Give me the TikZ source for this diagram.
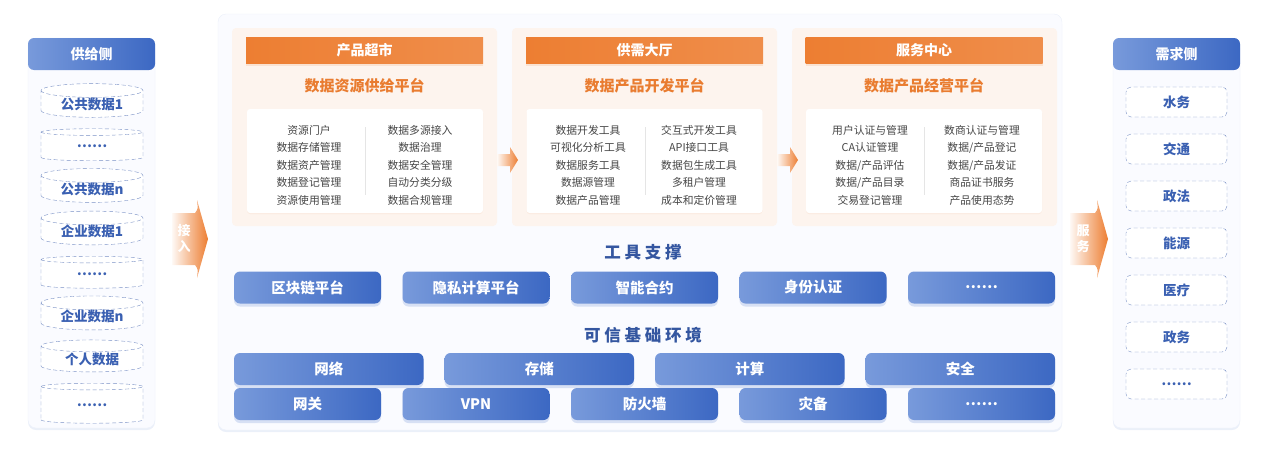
\documentclass[tikz,border=0pt]{standalone}
\usepackage{fontspec}
\setmainfont{Noto Sans CJK SC}
\usetikzlibrary{positioning,shapes.geometric,shadows}

\definecolor{blueL}{RGB}{120,154,219}
\definecolor{blueD}{RGB}{60,104,195}
\definecolor{blueTxt}{RGB}{58,96,178}
\definecolor{dashC}{RGB}{122,145,198}
\definecolor{ora}{RGB}{237,126,50}
\definecolor{oraTxt}{RGB}{233,124,48}
\definecolor{peach}{RGB}{253,244,238}
\definecolor{bodyTxt}{RGB}{70,70,70}
\definecolor{panelBg}{RGB}{250,251,255}

\begin{document}
\begin{tikzpicture}[x=1pt,y=-1pt,
    panel/.style={rounded corners=8pt, fill=panelBg, draw=blueL!15,
      drop shadow={shadow xshift=0pt,shadow yshift=-2pt,opacity=.10,fill=blueD}},
    sidehdr/.style={rounded corners=6pt, left color=blueL, right color=blueD,
      text=white, minimum width=127, minimum height=32,
      font=\fontsize{14}{16}\selectfont\bfseries},
    store/.style={cylinder, shape border rotate=90, aspect=.22, draw=dashC,
      dash pattern=on 4pt off 2.5pt, fill=white, minimum width=102,
      minimum height=32, text=blueTxt, inner sep=0pt,
      font=\fontsize{13.5}{16}\selectfont\bfseries},
    need/.style={rounded corners=5pt, draw=dashC, dash pattern=on 4pt off 2.5pt,
      fill=white, minimum width=101, minimum height=30, text=blueTxt,
      font=\fontsize{13.5}{16}\selectfont\bfseries},
    orabar/.style={left color=ora, right color=ora!88!white, text=white,
      minimum width=237, minimum height=26, inner sep=0pt,
      font=\fontsize{14}{16}\selectfont\bfseries,
      drop shadow={shadow xshift=0pt,shadow yshift=-3pt,opacity=.15,fill=ora}},
    subttl/.style={text=oraTxt, font=\fontsize{15}{18}\selectfont\bfseries},
    itembox/.style={fill=white, rounded corners=3pt, minimum width=236, minimum height=104,
      drop shadow={shadow xshift=0pt,shadow yshift=-1pt,opacity=.08,fill=ora}},
    itemcol/.style={align=center, text=bodyTxt, inner sep=0pt,
      font=\fontsize{10.8}{17.5}\selectfont},
    secttl/.style={text=blueTxt!90!black, font=\fontsize{16.5}{18}\selectfont\bfseries},
    toolbox/.style={rounded corners=6pt, left color=blueL, right color=blueD,
      text=white, minimum height=32, inner sep=0pt,
      font=\fontsize{14.5}{16}\selectfont\bfseries,
      drop shadow={shadow xshift=0pt,shadow yshift=-3pt,opacity=.18,fill=blueD}},
    flowtxt/.style={text=white, align=center, inner sep=0pt,
      font=\fontsize{13}{16}\selectfont\bfseries}]
  \useasboundingbox (0,0) rectangle (1268,458);

  % side panels and main panel
  \draw[panel] (28,38) rectangle (155,428);
  \draw[panel] (1113,38) rectangle (1240,428);
  \draw[panel] (218,14) rectangle (1062,430);
  \foreach \x in {232,512,792}
    \fill[peach, rounded corners=4pt] (\x,28) rectangle ++(265,198);

  % supply side
  \node[sidehdr] (supply) at (91.5,54) {供给侧};
  \foreach \yy/\txt/\nm in {104/公共数据1/pubA, 146.5/……/pubB, 189/公共数据n/pubN,
      231.5/企业数据1/entA, 274/……/entB, 316.5/企业数据n/entN, 359/个人数据/pers}
    \node[store] (\nm) at (92,\yy) {\txt};
  \node[store, minimum height=40] (more) at (92,405) {……};

  % demand side
  \node[sidehdr] (demand) at (1176.5,54) {需求侧};
  \foreach \i/\txt in {0/水务, 1/交通, 2/政法, 3/能源, 4/医疗, 5/政务, 6/……}
    \node[need] (need\i) at (1176.5,{102+47*\i}) {\txt};

  % flow arrows
  \shade[left color=ora!5, right color=ora]
    (172,213) -- (195,213) .. controls (198,209) .. (197,200) -- (208,239)
    -- (197,278) .. controls (198,269) .. (195,265) -- (172,265) -- cycle;
  \node[flowtxt] (inflow) at (184,239) {接\\入};
  \shade[left color=ora!5, right color=ora]
    (1070,213) -- (1095,213) .. controls (1098,209) .. (1097,200) -- (1108,239)
    -- (1097,278) .. controls (1098,269) .. (1095,265) -- (1070,265) -- cycle;
  \node[flowtxt] (outflow) at (1083,239) {服\\务};
  \foreach \x in {497,777}
    \shade[left color=ora!5, right color=ora]
      (\x,154) -- ++(13,0) -- ++(0,-7) -- ++(8,13) -- ++(-8,13) -- ++(0,-7)
      -- ++(-13,0) -- cycle;

  % platform panels
  \node[orabar] (mart) at (364.5,50) {产品超市};
  \node[subttl] (supplyP) at (364.5,86) {数据资源供给平台};
  \node[itembox] (martBox) at (365,161) {};
  \node[itemcol] at (309,165) {资源门户\\数据存储管理\\数据资产管理\\数据登记管理\\资源使用管理};
  \node[itemcol] at (420,165) {数据多源接入\\数据治理\\数据安全管理\\自动分类分级\\数据合规管理};
  \draw[black!10] (365,127) -- (365,195);

  \node[orabar] (hall) at (644.5,50) {供需大厅};
  \node[subttl] (devP) at (644.5,86) {数据产品开发平台};
  \node[itembox] (hallBox) at (644.5,161) {};
  \node[itemcol] at (588,165) {数据开发工具\\可视化分析工具\\数据服务工具\\数据源管理\\数据产品管理};
  \node[itemcol] at (699,165) {交互式开发工具\\API接口工具\\数据包生成工具\\多租户管理\\成本和定价管理};
  \draw[black!10] (645,127) -- (645,195);

  \node[orabar] (svc) at (924,50) {服务中心};
  \node[subttl] (opP) at (924,86) {数据产品经营平台};
  \node[itembox] (svcBox) at (924,161) {};
  \node[itemcol] at (870,165) {用户认证与管理\\CA认证管理\\数据/产品评估\\数据/产品目录\\交易登记管理};
  \node[itemcol] at (982,165) {数商认证与管理\\数据/产品登记\\数据/产品发证\\商品证书服务\\产品使用态势};
  \draw[black!10] (924,127) -- (924,195);

  % tool support
  \node[secttl] (toolTtl) at (643,252) {工 具 支 撑};
  \foreach \i/\txt in {0/区块链平台, 1/隐私计算平台, 2/智能合约, 3/身份认证, 4/……}
    \node[toolbox, minimum width=147] (tool\i) at ({307.5+168.5*\i},287.5) {\txt};

  % trusted base
  \node[secttl] (baseTtl) at (643,335) {可 信 基 础 环 境};
  \foreach \i/\txt in {0/网络, 1/存储, 2/计算, 3/安全}
    \node[toolbox, minimum width=189.5] (base\i) at ({328.75+210.5*\i},369) {\txt};
  \foreach \i/\txt in {0/网关, 1/VPN, 2/防火墙, 3/灾备, 4/……}
    \node[toolbox, minimum width=147] (net\i) at ({307.5+168.5*\i},404) {\txt};
\end{tikzpicture}
\end{document}
